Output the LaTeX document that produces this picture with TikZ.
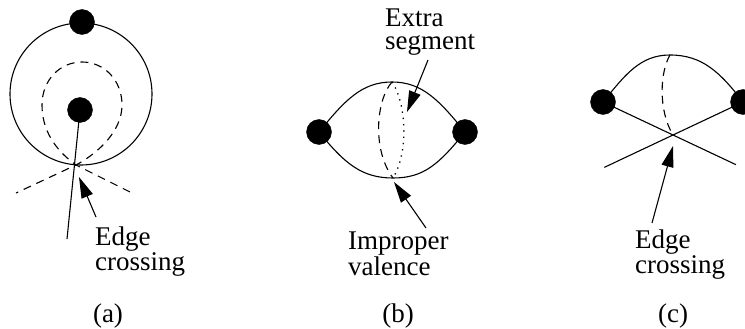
\documentclass[tikz,border=0pt]{standalone}
\usepackage{fontspec}
\setmainfont{Liberation Serif}
\newfontfamily\labelfont{Liberation Serif}
\usetikzlibrary{arrows.meta,positioning,calc}

\begin{document}
\begin{tikzpicture}[
    x=1pt, y=-1pt,
    every node/.style={font=\labelfont\fontsize{27}{23}\selectfont},
    vertex/.style={circle, fill=black, draw=black, minimum size=25pt, inner sep=0pt},
    edge/.style={line width=1.1pt},
    ghost/.style={line width=1.1pt, dash pattern=on 8pt off 6pt},
    dotseg/.style={line width=1.3pt, dash pattern=on 1.3pt off 5pt},
    pointer/.style={line width=1.1pt, -{Triangle[length=21pt,width=12pt]}},
    note/.style={anchor=north west, align=left, inner sep=0pt},
    caption/.style={anchor=base, inner sep=0pt},
]
    \useasboundingbox (0,0) rectangle (745,329);

    % (a) vertex on a closed loop
    \draw[edge] (81,94) circle[radius=71];
    \node[vertex] (topA) at (82,22) {};
    \node[vertex] (inA) at (80,110) {};
    \coordinate (crossA) at (76,165);
    \coordinate (endA) at (67,239);
    \draw[ghost] (130,192) -- (crossA)
        .. controls (55,150) and (42,130) .. (42,105)
        .. controls (42,80) and (60,62) .. (82,62)
        .. controls (104,62) and (122,80) .. (122,105)
        .. controls (122,130) and (100,152) .. (crossA) -- (16,193);
    \draw[edge] (inA.center) -- (endA);
    \node[note] (lblA) at (95,227) {Edge\\crossing};
    \coordinate (tailA) at (96,217);
    \coordinate (tipA) at (79,177);
    \draw[pointer] (tailA) -- (tipA);
    \node[caption] (capA) at (108,322) {(a)};

    % (b) two vertices joined twice
    \node[vertex] (leftB) at (319,132) {};
    \node[vertex] (rightB) at (465,132) {};
    \coordinate (topB) at (392,82);
    \coordinate (botB) at (393,178);
    \draw[edge] (leftB.center) .. controls (345,100) and (362,82) .. (topB)
        .. controls (422,82) and (439,100) .. (rightB.center);
    \draw[edge] (leftB.center) .. controls (345,164) and (362,178) .. (botB)
        .. controls (424,178) and (439,164) .. (rightB.center);
    \draw[ghost] (topB) .. controls (376,100) and (372,150) .. (botB);
    \draw[dotseg] (topB) .. controls (405,100) and (410,150) .. (botB);
    \node[note] (lblB1) at (385,9) {Extra\\segment};
    \coordinate (tailB1) at (428,60);
    \coordinate (tipB1) at (407,112);
    \draw[pointer] (tailB1) -- (tipB1);
    \node[note] (lblB2) at (348,232) {Improper\\valence};
    \coordinate (tailB2) at (426,228);
    \coordinate (tipB2) at (394,182);
    \draw[pointer] (tailB2) -- (tipB2);
    \node[caption] (capB) at (398,322) {(b)};

    % (c) crossing edges
    \node[vertex] (leftC) at (603,102) {};
    \node[vertex] (rightC) at (743,102) {};
    \coordinate (topC) at (670,55);
    \coordinate (crossC) at (673,135);
    \draw[edge] (leftC.center) .. controls (625,75) and (640,55) .. (topC)
        .. controls (702,55) and (720,72) .. (rightC.center);
    \draw[edge] (leftC.center) -- ($(leftC.center)!1.9!(crossC)$);
    \draw[edge] (rightC.center) -- ($(rightC.center)!1.98!(crossC)$);
    \draw[ghost] (topC) .. controls (660,72) and (658,110) .. (crossC);
    \node[note] (lblC) at (635,230) {Edge\\crossing};
    \coordinate (tailC) at (652,223);
    \coordinate (tipC) at (673,146);
    \draw[pointer] (tailC) -- (tipC);
    \node[caption] (capC) at (673,322) {(c)};
\end{tikzpicture}
\end{document}
